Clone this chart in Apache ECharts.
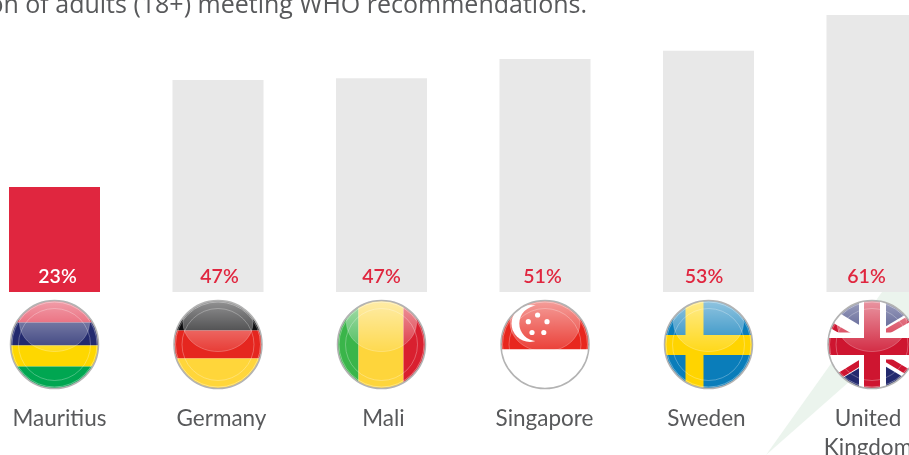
<!DOCTYPE html>
<html><head><meta charset="utf-8">
<script src="https://cdn.jsdelivr.net/npm/echarts@6/dist/echarts.min.js"></script>
<style>html,body{margin:0;padding:0;background:#fff;overflow:hidden}#c{width:909px;height:455px}</style>
</head><body><div id="c"></div>
<script>
var categories = ['Mauritius','Germany','Mali','Singapore','Sweden','United\nKingdom'];
var barValues = [23.1, 46.6, 47.0, 51.2, 53.0, 60.9];
var tickLabels = ['23%','47%','47%','51%','53%','61%'];
var titleText = 'Proportion of adults (18+) meeting WHO recommendations.';

var RED='#e0263f', GREY='#e8e8e8', INK='#58595b', BLUE='#232a6e', UKRED='#ce1530';
var R=44;
var nameShift=[5,3.5,2,-0.5,-2,-4];
var pctShift=[3,1.5,0,-2.5,-4.5,-5.5];
function rect(x,y,w,h,c){return {type:'rect',shape:{x:x,y:y,width:w,height:h},style:{fill:c}};}
function hs(bands){var o=[];for(var i=0;i<bands.length;i++){o.push(rect(-50,bands[i][0],100,bands[i][1]-bands[i][0],bands[i][2]));}return o;}
function vs(bands){var o=[];for(var i=0;i<bands.length;i++){o.push(rect(bands[i][0],-50,bands[i][1]-bands[i][0],100,bands[i][2]));}return o;}
function ln(x1,y1,x2,y2,w,c){return {type:'line',shape:{x1:x1,y1:y1,x2:x2,y2:y2},style:{stroke:c,lineWidth:w}};}
var flagDrawers=[
 function(){return hs([[-50,-22,'#e0263f'],[-22,1,BLUE],[1,22,'#fed700'],[22,50,'#00a651']]);},
 function(){return hs([[-50,-14,'#0d0d0f'],[-14,14,'#e5261f'],[14,50,'#ffd63a']]);},
 function(){return vs([[-50,-23,'#3ab54a'],[-23,22,'#fed53b'],[22,50,'#d9202f']]);},
 function(){
   var o=hs([[-50,5,'#e8271e'],[5,50,'#ffffff']]);
   o.push({type:'circle',shape:{cx:-15,cy:-21,r:18.5},style:{fill:'#fff'}});
   o.push({type:'circle',shape:{cx:-8,cy:-21,r:17.7},style:{fill:'#e8271e'}});
   var st=[[-7.4,-29.5],[-16.7,-22.8],[2,-22.8],[-13,-12],[-1.2,-12]];
   for(var i=0;i<st.length;i++){o.push({type:'circle',shape:{cx:st[i][0],cy:st[i][1],r:2.6},style:{fill:'#fff'}});}
   return o;},
 function(){var o=hs([[-50,50,'#0a7dba'],[-9.5,10.5,'#ffd400']]);o.push(rect(-23,-50,18,100,'#ffd400'));return o;},
 function(){
   var o=hs([[-50,50,BLUE]]);
   o.push(ln(-60,-35,60,37,22,'#fff'));o.push(ln(-60,39,60,-33,22,'#fff'));
   o.push(ln(-50,-24.5,-14,-4,6,UKRED));
   o.push(ln(8,-9,50,-33,6,UKRED));
   o.push(ln(-50,42,-8,16,6,UKRED));
   o.push(ln(10,12,50,36,6,UKRED));
   o.push(rect(-13,-50,27,100,'#fff'));o.push(rect(-50,-12,100,27,'#fff'));
   o.push(rect(-8,-50,16,100,UKRED));o.push(rect(-50,-6.5,100,17,UKRED));
   return o;}
];
function renderFlag(params,api){
  var p=api.coord([api.value(0),0]);
  var inner=flagDrawers[api.value(0)]();
  inner.push({type:'ellipse',shape:{cx:0,cy:-22,rx:35,ry:29},style:{fill:{type:'linear',x:0,y:0,x2:0,y2:1,colorStops:[{offset:0,color:'rgba(255,255,255,0.62)'},{offset:1,color:'rgba(255,255,255,0.1)'}]},stroke:'rgba(255,255,255,0.25)',lineWidth:1}});
  inner.push({type:'circle',shape:{cx:0,cy:0,r:36},style:{fill:'none',stroke:'rgba(255,255,255,0.28)',lineWidth:1}});
  inner.push({type:'circle',shape:{cx:0,cy:0,r:42.5},style:{fill:'none',stroke:'rgba(255,255,255,0.35)',lineWidth:1}});
  return {type:'group',x:p[0],y:p[1]+52.5,children:[
    {type:'group',children:inner,clipPath:{type:'circle',shape:{cx:0,cy:0,r:R}}},
    {type:'circle',shape:{cx:0,cy:0,r:R},style:{fill:'none',stroke:'#b3b3b3',lineWidth:1.5}}
  ]};
}
var chart=echarts.init(document.getElementById('c'),null,{renderer:'canvas'});
chart.setOption({
  animation:false,
  backgroundColor:'#fff',
  title:{text:titleText,right:317,top:-12,textStyle:{fontFamily:'Open Sans',fontWeight:400,fontSize:25,color:INK}},
  graphic:[{type:'polygon',z:0,silent:true,shape:{points:[[766,455],[882,292],[909,292],[909,329]]},style:{fill:'#ebf4ed'}}],
  grid:{left:-27.25,width:981,top:0.8,height:291.2,outerBoundsMode:'none',containLabel:false},
  xAxis:{type:'category',
    data:categories.map(function(c,i){var d=nameShift[i];return {value:c,textStyle:{padding:d>0?[0,0,0,2*d]:[0,-2*d,0,0]}};}),
    axisLine:{show:false},axisTick:{show:false},
    axisLabel:{margin:112,fontFamily:'Lato',fontSize:22.5,color:INK,lineHeight:29,interval:0,verticalAlign:'top'}},
  yAxis:{type:'value',min:0,max:64,show:false},
  series:[
   {type:'bar',barWidth:91,silent:true,
    data:barValues.map(function(v,i){return {value:v,itemStyle:{color:i===0?RED:GREY},
      label:{color:i===0?'#fff':RED,offset:[pctShift[i],0]}};}),
    label:{show:true,position:'insideBottom',distance:5,fontFamily:'Lato',fontWeight:600,fontSize:19.5,
      formatter:function(p){return tickLabels[p.dataIndex];}}},
   {type:'custom',silent:true,clip:false,renderItem:renderFlag,encode:{x:0,y:1},
    data:categories.map(function(c,i){return [i,0];})}
  ]
});
</script></body></html>
